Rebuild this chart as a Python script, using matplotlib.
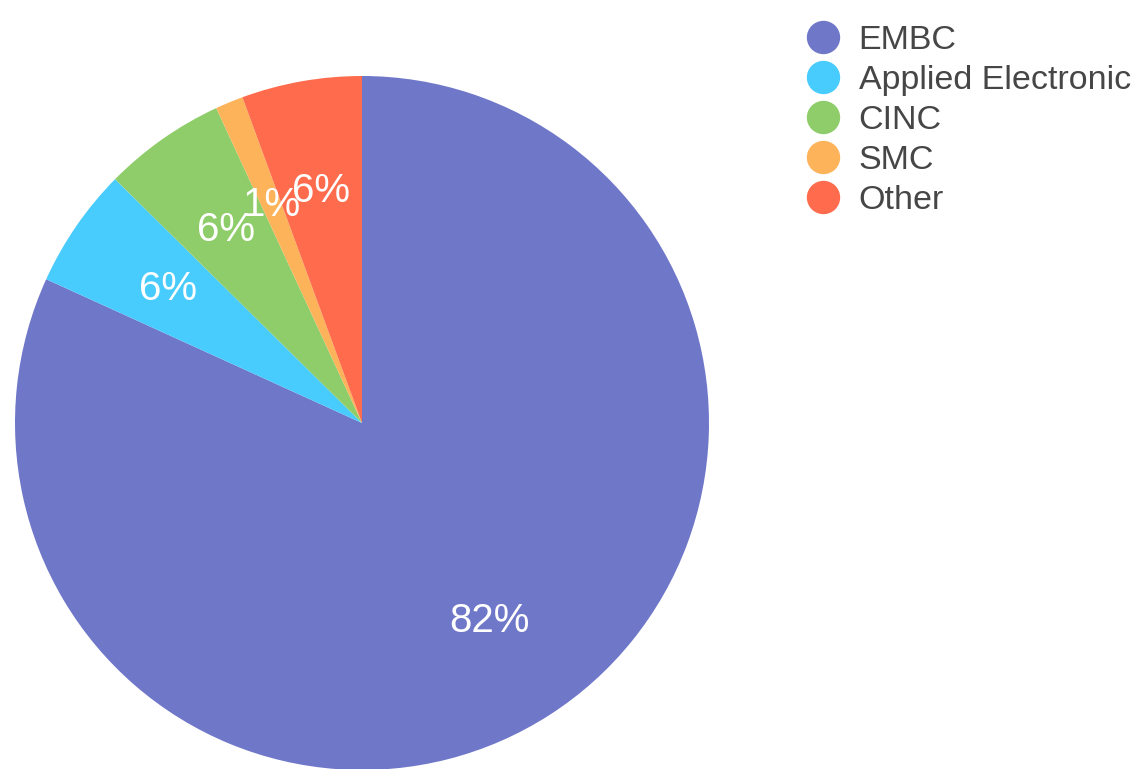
import matplotlib
matplotlib.use('Agg')
import matplotlib.pyplot as plt
from matplotlib.lines import Line2D

labels = ['EMBC', 'Applied Electronic', 'CINC', 'SMC', 'Other']
shares = [81.8, 5.6, 5.7, 1.3, 5.6]
colors = ['#6f77c9', '#48cbfd', '#8ecd6a', '#fdb35a', '#fe6c4d']

plt.rcParams['font.family'] = ['Liberation Sans', 'DejaVu Sans']

fig = plt.figure(figsize=(11.37, 7.69), dpi=100)
W, H = 1137, 769
cx, cy, r = 362, 423, 347
ax = fig.add_axes([(cx - r) / W, (H - cy - r) / H, 2 * r / W, 2 * r / H])

wedges, texts, autotexts = ax.pie(shares, colors=colors, startangle=90, counterclock=False,
                                  autopct='%.0f%%', pctdistance=0.68, radius=1,
                                  textprops={'color': 'white', 'fontsize': 29})
ax.set_xlim(-1, 1)
ax.set_ylim(-1, 1)
ax.set_aspect('equal')

handles = [Line2D([0], [0], marker='o', linestyle='', markersize=23,
                  markerfacecolor=c, markeredgecolor=c) for c in colors]
fig.legend(handles, labels, loc='upper left', bbox_to_anchor=(806 / W, 1 - 25 / H),
           frameon=False, fontsize=24.5, labelcolor='#464646', handletextpad=0.55,
           labelspacing=0.265, handlelength=1.0, borderpad=0, borderaxespad=0)

fig.savefig('out.png', dpi=100)
